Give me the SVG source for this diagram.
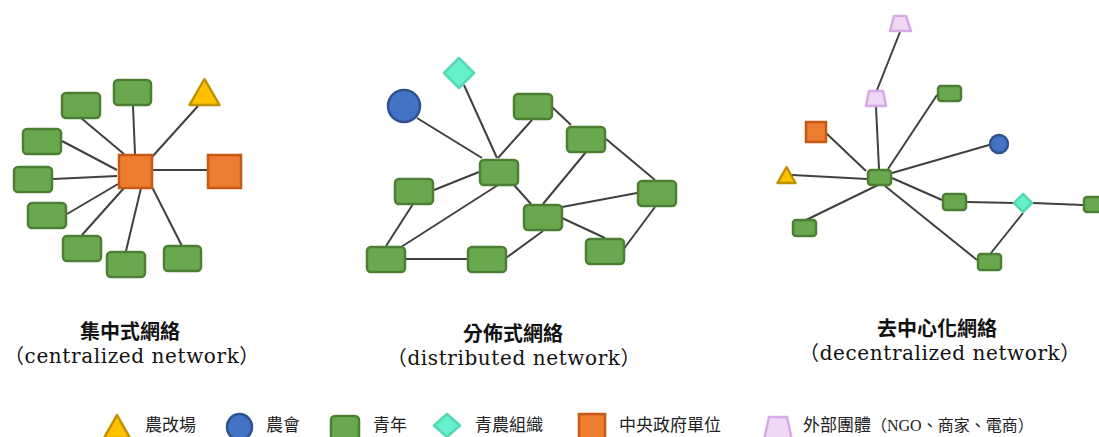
<svg xmlns="http://www.w3.org/2000/svg" width="1099" height="437" viewBox="0 0 1099 437">
<style>
.g{fill:#6aa84f;stroke:#4c7f33;stroke-width:2.5}
.o{fill:#ed7d31;stroke:#c65a14;stroke-width:2.5}
.y{fill:#ffc000;stroke:#bf9000;stroke-width:2.5;stroke-linejoin:round}
.b{fill:#4472c4;stroke:#2f528f;stroke-width:2.5}
.d{fill:#66f0cc;stroke:#55d8b5;stroke-width:2.5;stroke-linejoin:round}
.p{fill:#eed8f4;stroke:#d9a8e6;stroke-width:2.5;stroke-linejoin:round}
.e line{stroke:#404040;stroke-width:2}
.t1{font-family:"Noto Sans CJK TC",sans-serif;font-weight:700;font-size:20px;fill:#111;text-anchor:middle}
.t2{font-family:"DejaVu Serif","Noto Sans CJK TC",serif;font-size:20px;letter-spacing:0.6px;fill:#111;text-anchor:middle}
.lg{font-family:"Noto Sans CJK TC",sans-serif;font-size:17px;fill:#222}
.lgs{font-family:"Liberation Serif","Noto Sans CJK TC",serif;font-size:16px}
</style>

<!-- Centralized -->
<g id="centralized-edges" class="e">
<line x1="133" y1="106" x2="135" y2="154"/>
<line x1="81" y1="118" x2="124" y2="154"/>
<line x1="62" y1="141" x2="117" y2="170"/>
<line x1="53" y1="179" x2="117" y2="176"/>
<line x1="67" y1="214" x2="118" y2="184"/>
<line x1="82" y1="235" x2="124" y2="188"/>
<line x1="126" y1="251" x2="141" y2="188"/>
<line x1="182" y1="246" x2="152" y2="187"/>
<line x1="198" y1="106" x2="152" y2="157"/>
<line x1="152" y1="170" x2="207" y2="170"/>
</g>
<g id="c-hub"><rect class="o" x="119" y="155" width="33" height="33"/></g>
<g id="c-gov"><rect class="o" x="208" y="155" width="33" height="33"/></g>
<g id="c-tri"><polygon class="y" points="204.5,79 189.5,105 219.5,105"/></g>
<g id="c-g1"><rect class="g" x="114" y="80" width="37" height="25" rx="4"/></g>
<g id="c-g2"><rect class="g" x="62" y="93" width="38" height="25" rx="4"/></g>
<g id="c-g3"><rect class="g" x="23" y="129" width="38" height="25" rx="4"/></g>
<g id="c-g4"><rect class="g" x="14" y="167" width="38" height="25" rx="4"/></g>
<g id="c-g5"><rect class="g" x="28" y="203" width="38" height="25" rx="4"/></g>
<g id="c-g6"><rect class="g" x="63" y="236" width="38" height="25" rx="4"/></g>
<g id="c-g7"><rect class="g" x="107" y="252" width="38" height="25" rx="4"/></g>
<g id="c-g8"><rect class="g" x="164" y="246" width="37" height="25" rx="4"/></g>

<!-- Distributed -->
<g id="distributed-edges" class="e">
<line x1="417" y1="118" x2="482" y2="158"/>
<line x1="464" y1="85" x2="497" y2="158"/>
<line x1="532" y1="120" x2="498" y2="158"/>
<line x1="552" y1="107" x2="571" y2="125"/>
<line x1="606" y1="139" x2="655" y2="180"/>
<line x1="586" y1="152" x2="543" y2="204"/>
<line x1="479" y1="172" x2="434" y2="190"/>
<line x1="514" y1="185" x2="531" y2="204"/>
<line x1="498" y1="185" x2="398" y2="249"/>
<line x1="413" y1="204" x2="386" y2="246"/>
<line x1="406" y1="259" x2="467" y2="259"/>
<line x1="506" y1="258" x2="543" y2="231"/>
<line x1="562" y1="207" x2="637" y2="193"/>
<line x1="562" y1="218" x2="605" y2="238"/>
<line x1="655" y1="207" x2="623" y2="250"/>
</g>
<g id="d-circle"><circle class="b" cx="404" cy="106" r="16"/></g>
<g id="d-diamond"><polygon class="d" points="459,58 474,73 459,88 444,73"/></g>
<g id="d-a"><rect class="g" x="514" y="94" width="38" height="25" rx="4"/></g>
<g id="d-b"><rect class="g" x="567" y="127" width="38" height="25" rx="4"/></g>
<g id="d-c"><rect class="g" x="480" y="160" width="38" height="25" rx="4"/></g>
<g id="d-d"><rect class="g" x="395" y="179" width="38" height="25" rx="4"/></g>
<g id="d-e"><rect class="g" x="524" y="205" width="38" height="25" rx="4"/></g>
<g id="d-f"><rect class="g" x="638" y="181" width="38" height="25" rx="4"/></g>
<g id="d-g"><rect class="g" x="367" y="247" width="38" height="25" rx="4"/></g>
<g id="d-h"><rect class="g" x="468" y="247" width="38" height="25" rx="4"/></g>
<g id="d-i"><rect class="g" x="586" y="239" width="38" height="25" rx="4"/></g>

<!-- Decentralized -->
<g id="decentralized-edges" class="e">
<line x1="900" y1="32" x2="877" y2="90"/>
<line x1="876" y1="107" x2="879" y2="169"/>
<line x1="826" y1="133" x2="866" y2="171"/>
<line x1="792" y1="175" x2="867" y2="179"/>
<line x1="888" y1="169" x2="937" y2="95"/>
<line x1="892" y1="173" x2="989" y2="145"/>
<line x1="892" y1="178" x2="942" y2="200"/>
<line x1="878" y1="185" x2="804" y2="221"/>
<line x1="885" y1="186" x2="977" y2="260"/>
<line x1="967" y1="202" x2="1015" y2="203"/>
<line x1="1033" y1="203" x2="1083" y2="205"/>
<line x1="1023" y1="213" x2="991" y2="253"/>
</g>
<g id="x-ngo1"><polygon class="p" points="894,16 906,16 911,31 890,31"/></g>
<g id="x-ngo2"><polygon class="p" points="869,91 883,91 886,106 866,106"/></g>
<g id="x-gov"><rect class="o" x="806" y="122" width="20" height="20"/></g>
<g id="x-tri"><polygon class="y" points="786.5,167 777.5,183 795.5,183"/></g>
<g id="x-hub"><rect class="g" x="868" y="170" width="23" height="15" rx="3"/></g>
<g id="x-g1"><rect class="g" x="938" y="86" width="23" height="15" rx="3"/></g>
<g id="x-circle"><circle class="b" cx="999" cy="144" r="9"/></g>
<g id="x-g2"><rect class="g" x="943" y="194" width="23" height="16" rx="3"/></g>
<g id="x-diamond"><polygon class="d" points="1023,194 1032,203 1023,212 1014,203"/></g>
<g id="x-g3"><rect class="g" x="1084" y="197" width="23" height="15" rx="3"/></g>
<g id="x-g4"><rect class="g" x="793" y="220" width="23" height="16" rx="3"/></g>
<g id="x-g5"><rect class="g" x="978" y="254" width="23" height="16" rx="3"/></g>

<!-- Titles -->
<g id="title-centralized">
<text class="t1" x="130" y="339">集中式網絡</text>
<text class="t2" x="132" y="363">（centralized network）</text>
</g>
<g id="title-distributed">
<text class="t1" x="513" y="341">分佈式網絡</text>
<text class="t2" x="514" y="365">（distributed network）</text>
</g>
<g id="title-decentralized">
<text class="t1" x="937" y="336">去中心化網絡</text>
<text class="t2" x="940" y="360">（decentralized network）</text>
</g>

<!-- Legend -->
<g id="legend">
<polygon class="y" points="117,415 104,438 130,438"/>
<text class="lg" x="145" y="431">農改場</text>
<ellipse class="b" cx="239.5" cy="427" rx="12.5" ry="13"/>
<text class="lg" x="266" y="431">農會</text>
<rect class="g" x="331" y="416" width="28" height="24" rx="4"/>
<text class="lg" x="373" y="431">青年</text>
<polygon class="d" points="447,414 460,425.5 447,437 434,425.5"/>
<text class="lg" x="475" y="431">青農組織</text>
<rect class="o" x="579" y="414" width="26" height="27"/>
<text class="lg" x="619" y="431">中央政府單位</text>
<polygon class="p" points="769,417 787,417 792,440 764,440"/>
<text class="lg" x="803" y="431">外部團體<tspan class="lgs">（NGO、商家、電商）</tspan></text>
</g>
</svg>
